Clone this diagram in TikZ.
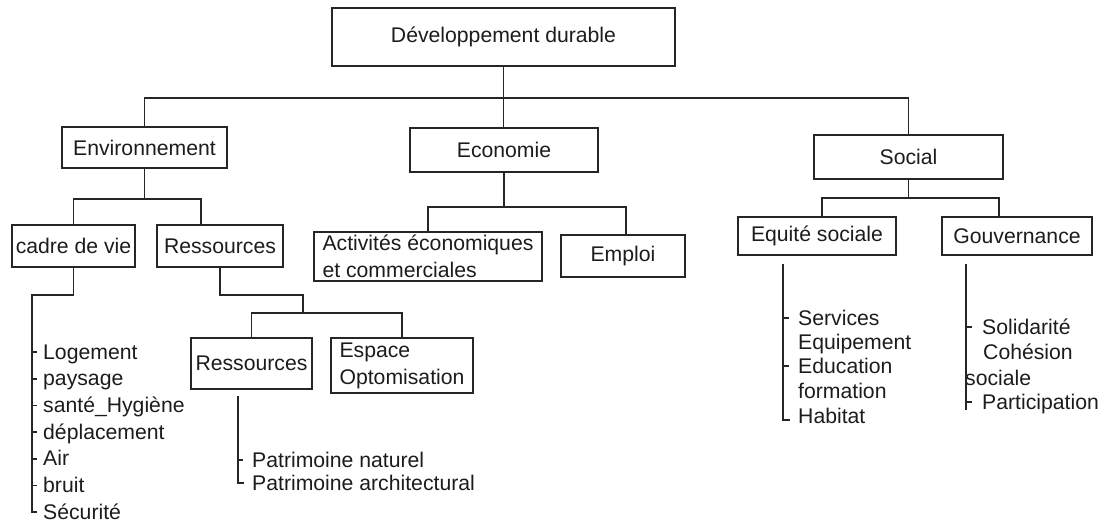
\documentclass[tikz,border=0pt]{standalone}
\usepackage{fontspec}
\setmainfont{Liberation Sans}
\usetikzlibrary{positioning}
\definecolor{linecol}{HTML}{262626}
\definecolor{txtcol}{HTML}{1C1C1C}

\begin{document}
\begin{tikzpicture}[x=1pt,y=-1pt,
    box/.style={draw=linecol,line width=1.8pt,inner sep=2pt,text=txtcol,
      font=\fontsize{21.2}{26.8}\selectfont},
    item/.style={anchor=west,inner sep=0pt,text height=14pt,text depth=0pt,
      text=txtcol,font=\fontsize{21.2}{26.8}\selectfont},
    conn/.style={draw=linecol,line width=1.8pt}]
        \useasboundingbox (0,0) rectangle (1102,523);

        % Boxes of the tree
        \node[box,minimum width=343pt,minimum height=58pt] (dd) at (503.5,37) {Développement durable};
        \node[box,minimum width=165pt,minimum height=41pt] (env) at (144.5,147.5) {Environnement};
        \node[box,minimum width=188pt,minimum height=44pt] (eco) at (504,150) {Economie};
        \node[box,minimum width=189pt,minimum height=44pt] (soc) at (908.5,157) {Social};

        \node[box,minimum width=123pt,minimum height=42pt] (cadre) at (73.5,246) {cadre de vie};
        \node[box,minimum width=126pt,minimum height=42pt] (res) at (220,246) {Ressources};
        \node[box,minimum width=228pt,minimum height=49pt,align=left] (act) at (428,256.5)
          {Activités économiques\\et commerciales};
        \node[box,minimum width=124pt,minimum height=42pt] (emp) at (623,256) {Emploi};
        \node[box,minimum width=158pt,minimum height=38pt] (equ) at (817,236) {Equité sociale};
        \node[box,minimum width=150pt,minimum height=38pt] (gouv) at (1017,236) {Gouvernance};

        \node[box,minimum width=121pt,minimum height=51pt] (res2) at (251.5,363.5) {Ressources};
        \node[box,minimum width=142pt,minimum height=55pt,align=left] (esp) at (402,365.5)
          {Espace\\Optomisation};

        % Bus lines between levels
        \coordinate (topbus) at (503.5,98);
        \coordinate (envbus) at (144.5,199);
        \coordinate (ecobus) at (504,207);
        \coordinate (socbus) at (908.5,198);
        \coordinate (resbend) at (303,295);
        \coordinate (resbus) at (303,313);

        \draw[conn] (dd.south) -- (dd.south |- eco.north);
        \draw[conn] (env.north) |- (topbus) -| (soc.north);

        \draw[conn] (env.south) -- (envbus);
        \draw[conn] (cadre.north) |- (envbus) -| ([xshift=-19pt]res.north);

        \draw[conn] (eco.south) -- (ecobus);
        \draw[conn] (act.north) |- (ecobus) -| ([xshift=3pt]emp.north);

        \draw[conn] (soc.south) -- (socbus);
        \draw[conn] ([xshift=5pt]equ.north) |- (socbus) -| ([xshift=-18pt]gouv.north);

        \draw[conn] (res.south) |- (resbend) -- (resbus);
        \draw[conn] (res2.north) |- (resbus) -| (esp.north);

        % Lists hanging from the leaves
        \foreach \t [count=\i] in {Logement,paysage,santé\_Hygiène,déplacement,Air,bruit,Sécurité}
          \node[item] (cv\i) at (43,325.3+26.7*\i) {\t};
        \coordinate (cvbend) at (32,295);
        \draw[conn] (cadre.south) |- (cvbend) |- ([xshift=-6pt]cv7.west);
        \foreach \i in {1,...,6}
          \draw[conn] ([xshift=-11pt]cv\i.west) -- ++(5,0);

        \node[item] (pn1) at (252,460) {Patrimoine naturel};
        \node[item] (pn2) at (252,483) {Patrimoine architectural};
        \draw[conn] ([xshift=-13.5pt,yshift=-6pt]res2.south) |- ([xshift=-8pt]pn2.west);
        \draw[conn] ([xshift=-14pt]pn1.west) -- ++(5,0);

        \foreach \t/\y [count=\i] in {Services/318,Equipement/342,Education/366,formation/391,Habitat/416}
          \node[item] (es\i) at (798,\y) {\t};
        \draw[conn] ([xshift=-34pt,yshift=-8pt]equ.south) |- ([xshift=-8pt,yshift=-4pt]es5.west);
        \foreach \n in {es1,es3}
          \draw[conn] ([xshift=-15pt]\n.west) -- ++(6,0);

        \node[item] (go1) at (982,327) {Solidarité};
        \node[item] (go2) at (983,352) {Cohésion};
        \node[item] (go3) at (965,378) {sociale};
        \node[item] (go4) at (982,402) {Participation};
        \draw[conn] ([xshift=-51pt,yshift=-8pt]gouv.south) -- ([xshift=-16pt,yshift=-8pt]go4.west);
        \foreach \n in {go1,go4}
          \draw[conn] ([xshift=-16pt]\n.west) -- ++(6,0);
\end{tikzpicture}
\end{document}
